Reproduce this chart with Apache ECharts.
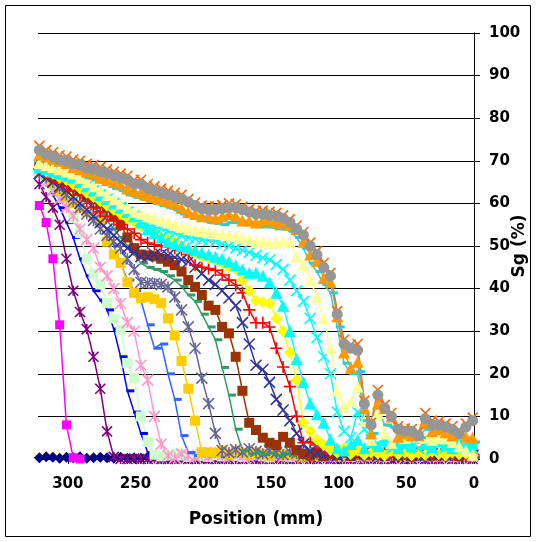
<!DOCTYPE html>
<html>
<head>
<meta charset="utf-8">
<script src="https://cdn.jsdelivr.net/npm/echarts@6/dist/echarts.min.js"></script>
<style>
html,body{margin:0;padding:0;background:#fff}
#chart{width:536px;height:542px}
</style>
</head>
<body>
<div id="chart"></div>
<script>
// Measurement positions along the core (mm)
const positions = [321,316,311,306,301,296,291,286,281,276,271,266,261,256,251,246,241,236,231,226,221,216,211,206,201,196,191,186,181,176,171,166,161,156,151,146,141,136,131,126,121,116,111,106,101,96,91,86,81,76,71,66,61,56,51,46,41,36,31,26,21,16,11,6,1];

// Gas saturation profiles Sg (%), one array per scan
const sg01 = [0.3,0.5,0.4,0.2,0.4,0.3,0.5,0.2,0.3,0.4,0.3,0.2,0.4,0.2,0.3,0.2,0.4,0.5,0.2,0.2,0.3,0.4,0.2,0.3,0.4,0.2,0.3,0.1,0.3,0.4,0.2,0.3,0.1,0.3,0.4,0.2,0.3,0.1,0.4,0.3,0.2,0.3,0.5,0.2,0.3,0.4,0.1,0.3,0.5,0.2,0.3,0.4,0.1,0.3,0.2,0.4,0.3,0.1,0.3,0.2,0.4,0.3,0.5,0.4,0.3];
const sg02 = [59.5,55.5,47,31.5,8,0.3,0];
const sg03 = [64.5,61.5,59,55,47,39.5,34.5,30.5,24,16.5,6.5,0.5,0,0,0.1,0,0,0.1,0,0,0,0.1,0,0,0.1,0,0,0.1,0,0,0,0.1,0,0,0,0.1,0,0,0,0.1,0,0,0.1,0,0,0,0.1,0,0,0.1,0,0,0,0.1,0,0,0.1,0,0,0,0.1,0,0,0.1,0];
const sg04 = [66.5,64.5,62,59,55.5,52,47,43,39.5,37.3,35,30.5,24,16,11,6,1.5,0.5,0.8,0.4,0.6,0.3,0.5,0.8,0.4,0.6,0.3,0.5,0.7,0.4,0.5,0.3,0.6,0.4,0.8,0.5,0.3,0.6,0.4,0.5,0.7,0.4,0.5,0.3,0.6,0.8,0.4,0.5,0.3,0.6,0.4,0.7,0.5,0.3,0.6,0.4,0.5,0.8,0.3,0.5,0.6,0.4,0.5,0.7,0.4];
const sg05 = [67,65.5,64,62.5,60.5,56.5,53,47,43.5,41,36.6,33,30.3,22.5,19,10,4,1,0.6,0.8,1.2,0.8,0.5,1.0,0.7,0.5,0.9,0.6,1.1,0.7,0.5,0.8,1.0,0.6,0.4,0.9,0.7,0.5,0.8,0.6,1.0,0.7,0.5,0.8,0.6,0.9,0.5,0.7,1.0,0.6,0.8,0.5,0.7,0.9,0.6,0.8,0.5,1.0,0.7,0.6,0.8,0.5,0.9,0.7,0.6];
const sg06 = [67,65,63,61,59,57,54,51.5,49.5,45,43,40,36.5,32,30,22,18.5,10,3.5,0.8,0.3,1.2,0.8,0.5,1.0,0.6,1.5,0.8,0.5,1.1,0.7,0.4,0.9,1.3,0.6,0.8,0.5,1.0,0.7,0.4,0.9,0.6,1.2,0.5,0.8,0.6,1.0,0.4,0.7,0.9,0.5,0.8,0.6,1.1,0.4,0.7,0.9,0.5,0.8,0.6,1.0,0.5,0.7,0.9,0.6];
const sg07 = [67,65.5,64,62.5,61,60,59,58,57,55.5,54,50,46,42,39.5,37.3,31.5,26,27,20,14,5.5,1.5,0.8,1.2,0.6,1.0,0.5,0.8,1.1,0.6,0.9,0.5,1.2,0.7,0.4,1.0,0.6,0.8,0.5,0.9,0.6,1.1,0.5,0.8,0.7,0.4,1.0,0.6,0.8,0.5,0.9,0.7,0.4,1.0,0.6,0.8,0.5,0.9,0.7,0.6,1.0,0.5,0.8,0.6];
const sg08 = [68,66.5,65,63,61.5,60,59,58,57,55.5,51,48,46,41.5,39,37.8,38,37.5,36.6,33,29,23,16.5,9,1.6,1.5,1.5,2.0,1.2,1.8,1.4,1.0,1.6,1.2,0.8,1.5,1.1,0.9,1.3,0.7,1.1,0.8,1.4,0.6,1.0,1.2,0.7,0.9,1.3,0.8,1.0,0.6,1.2,0.9,0.7,1.1,0.8,1.3,0.6,1.0,0.8,1.2,0.7,1.0,0.9];
const sg09 = [67,66,65,63.5,62,60.5,59,57.5,56,54,52.5,51,49.5,47,44.5,41.5,41.3,41.2,41,40.4,38,35,31,26,19,13,6,2,1.5,2.2,1.6,2.4,1.8,1.2,2.0,1.5,1.0,1.7,1.3,0.9,1.5,1.1,1.8,0.8,1.2,1.6,0.9,1.4,1.0,1.3,0.8,1.2,1.5,0.9,1.1,1.4,0.7,1.0,1.3,0.9,1.2,0.8,1.1,1.4,0.9];
const sg10 = [68,67,66,65,64,62.5,61.5,60.5,59,57.5,56,54,52,50,48,46,45,44.5,44,43,42,40.5,38.5,37,34,31,28,21.5,15,7,2,1.2,1.6,1.0,1.4,0.8,1.2,0.9,1.5,1.1,0.7,1.3,1.0,0.8,1.2,0.6,1.1,0.9,0.7,1.0,1.2,0.8,0.6,1.1,0.9,0.7,1.0,1.2,0.8,0.6,1.0,0.8,1.1,0.7,0.9];
const sg11 = [69,68,67,66,65,64,63,62,61,60,59,57,55,52,49.5,48,47.8,47.6,47,46.3,45.5,44,42,40.4,38.5,36,35,31,29.5,24,16,8.5,6.8,5,3.8,3.3,5.2,3.8,2.1,1.2,0.8,1.5,0.6,1.2,0.9,1.8,0.7,1.3,1.0,2.0,1.1,0.7,1.5,0.9,1.3,0.6,1.0,1.6,0.8,1.2,0.9,1.4,0.7,1.1,0.8];
const sg12 = [67,66,65,64,63,61.5,60,58.5,57,55.5,54,52.5,51,49.5,48.5,47.5,47.5,48,48,47.8,47.3,46.8,46.3,45,43.5,42,41,39.5,37.8,36,32,27,22,21,18,14,11.5,9,6,3.5,1.8,1.4,1.0,1.6,0.8,1.2,2.0,0.9,1.4,1.1,0.7,1.3,1.0,0.6,1.5,0.9,1.2,0.8,1.1,1.4,0.9,1.2,1.6,1.0,0.8];
const sg13 = [68,67,66,65,64,63,62,60.5,59,58,57,56,55,54,53,51.5,50.7,50.3,50,49.8,49.5,49,48,45.5,45,44.7,44.3,43.2,42,40.8,39,35,32,32,31,26,21.6,17,10,3.8,4,3.3,2.6,1.5,1.0,1.8,0.8,1.3,0.7,1.1,0.9,1.4,0.6,1.0,1.2,0.8,1.5,0.7,1.0,0.9,1.3,0.8,1.1,0.6,1.0];
const sg14 = [68.5,67.5,67,66,65.5,64.5,63.5,62.5,61.5,60.5,59.5,58.5,57.5,56.5,55.5,54.5,53.5,53,52,51.5,51,50,49.3,48.3,47.5,47.2,46.8,46,45,44.5,42,39.5,37.2,36.8,36.5,33,30,25,18.5,8.5,6.5,4.5,3.3,2.1,1.5,2.5,1.2,2.0,1.0,1.6,1.3,0.8,1.8,1.1,1.5,0.9,1.4,1.0,1.7,1.2,0.9,1.5,1.1,1.3,0.8];
const sg15 = [68.5,68,67.5,67,66.5,66,65,64,63,62,61,60,59,58,57,55.5,54,53,52,51,50.5,50,49.5,49,48.5,48,47.5,47,46.3,45.5,44.5,43.7,43.7,43,41.5,39,36,30,23.5,18,13,10.5,8.5,4.5,2.5,2,3.5,4.5,2.5,4,3,4.5,3.5,2.5,4,3,5,3.5,2.8,4.2,3.2,2.5,4,3,3.5];
const sg16 = [69,68.5,68,67.5,67,66,65,64,63,62,61,60,59,58,57,56,55,54.5,54,53.5,53,52.5,52,51.8,51.5,51.3,51,50.5,50,49.5,49,48.5,47.8,47.2,46.7,45.7,44.5,42,39.5,37,33,28.5,24,20,11,6.5,5,11,7,4.5,3.5,3,2.5,3.5,2.8,3.2,2.5,3,2.2,3.4,2.6,3,2.4,2.8,2.5];
const sg17 = [69.5,69,68.5,68,67.5,67,66,65,64,63,62,61,60,59,58,57.5,57,56.5,56,55.5,55,54.5,54,53.8,53.5,53.2,53,52.8,52.6,52.3,52,51.5,51,51,50.7,50.8,51,51,47.5,45.5,42,38,33,26,16,12.2,13.5,17,9,4.5,10.8,6,3.8,5.5,5,5.5,5.2,5,4.5,5,4.8,4,3,2,1];
const sg18 = [70.5,70,69.5,69,68.5,67.5,67,66,65.5,65,64.5,63.5,63,62,61.5,61,60.5,60,59.5,59,58.5,57.5,57,56.5,56,55.5,55.3,55,55.5,55.5,55,55,54.5,54.5,54.5,54,54,53.5,52,49.5,46,44,41,39,31,22.5,20,20.5,9,6,12,8,7.5,5.5,5,5.5,5,7,6.5,6,6,5,5.5,4.5,4];
const sg19 = [71.5,71,70.5,70,69.5,68.5,68,67.5,67,66,65.5,65,64.5,63.5,63,62.5,62,61.5,61,60.5,60,59,58,57.5,57,57,56.5,57,57.5,57,56,56,55.5,56,56,55.5,55.5,55,54,51,48,46.5,42.5,41.5,33.5,25,21.4,22.8,12,6,13,12,10,5.2,6,5.5,5.6,8.5,6.5,7,6.3,5.5,6,5.2,5];
const sg20 = [73.5,72.5,72,71.3,71,70.3,70,69.3,69,68.5,68,67.5,67,66.5,65.5,65.5,64.5,64,63.5,63,62.5,62,61,60.2,59.5,59.3,59.3,59.6,60,59.8,59.2,58.7,58.2,58.3,58,57.8,57.2,56.3,54.8,53.3,50.8,48.8,46,43.7,34.7,28,26.8,27,13.7,8.5,16.2,12.7,10.8,7.7,7.2,7,6.3,10.8,9,8.8,8.3,7.7,6.8,8.3,9.7];
const sg21 = [72.5,71.5,71,70.3,70,69.3,69,68.3,68,67.5,67,66.5,66,65.5,64.5,64.5,63.5,63,62.5,62,61.5,61,60.3,59.5,58.8,58.5,58.5,58.8,59,59,58.5,58,57.5,57.5,57.2,57,56.5,55.6,54,52.6,50,48,45,43,34,27,26,25.5,13,8,15,12,10,7,6.5,6.5,5.5,9.5,8,8,7.5,7,6,7.5,9];

// Axis tick values
const xTickValues = [0, 50, 100, 150, 200, 250, 300];

// Marker shapes drawn as strokes
const X_MARK = 'path://M0,0L10,10M10,0L0,10';
const STAR_MARK = 'path://M0,0L10,10M10,0L0,10M5,0L5,10';
const PLUS_MARK = 'path://M5,0L5,10M0,5L10,5';
const DASH_MARK = 'rect';

const profiles = [
  { v: sg01, c: '#000080', s: 'diamond', z: 11 },
  { v: sg02, c: '#FF00FF', s: 'rect', z: 9 },
  { v: sg03, c: '#800080', s: STAR_MARK, z: 10, k: true },
  { v: sg04, c: '#0000FF', s: DASH_MARK, z: [8, 3], d: true },
  { v: sg05, c: '#CCFFCC', s: 'rect', z: 10 },
  { v: sg06, c: '#FF99CC', s: STAR_MARK, z: 11, k: true },
  { v: sg07, c: '#3366FF', s: DASH_MARK, z: [8, 3], d: true },
  { v: sg08, c: '#FFCC00', s: 'rect', z: 10 },
  { v: sg09, c: '#666699', s: STAR_MARK, z: 11, k: true },
  { v: sg10, c: '#339966', s: DASH_MARK, z: [8, 3], d: true },
  { v: sg11, c: '#993300', s: 'rect', z: 10 },
  { v: sg12, c: '#333399', s: X_MARK, z: 11, k: true },
  { v: sg13, c: '#FF0000', s: PLUS_MARK, z: 12, k: true },
  { v: sg14, c: '#FFFF00', s: 'diamond', z: 12 },
  { v: sg15, c: '#00FFFF', s: 'triangle', z: 12 },
  { v: sg16, c: '#00FFFF', s: X_MARK, z: 11, k: true },
  { v: sg17, c: '#FFFF99', s: 'triangle', z: 12 },
  { v: sg18, c: '#33CCCC', s: DASH_MARK, z: [9, 3], d: true },
  { v: sg19, c: '#FF9900', s: 'triangle', z: 12 },
  { v: sg20, c: '#FF6600', s: X_MARK, z: 10, k: true },
  { v: sg21, c: '#969696', s: 'circle', z: 11 }
];

const series = profiles.map((p, idx) => ({
  name: 'scan' + (idx + 1),
  type: 'line',
  data: p.v.map((v, i) => [positions[i], v]),
  symbol: p.s,
  symbolSize: p.z,
  symbolOffset: p.d ? [3, 0] : [0, 0],
  showSymbol: true,
  clip: false,
  lineStyle: { color: p.c, width: 1.5 },
  itemStyle: p.k
    ? { color: p.c, borderColor: p.c, borderWidth: 1.6 }
    : { color: p.c, borderWidth: 0 },
  emphasis: { disabled: true },
  animation: false
}));

const axisFont = { fontFamily: 'DejaVu Sans', fontWeight: 'bold', fontSize: 15, color: '#000' };

const chart = echarts.init(document.getElementById('chart'), null, { renderer: 'canvas' });
chart.setOption({
  backgroundColor: '#fff',
  animation: false,
  grid: { left: 38, right: 62, top: 33, bottom: 83, containLabel: false, outerBoundsMode: 'none' },
  xAxis: {
    type: 'value',
    inverse: true,
    min: 0,
    max: 322,
    name: 'Position (mm)',
    nameLocation: 'middle',
    nameGap: 52,
    nameMoveOverlap: false,
    nameTextStyle: { fontFamily: 'DejaVu Sans', fontWeight: 'bold', fontSize: 17, color: '#000' },
    axisLine: { show: true, onZero: false, lineStyle: { color: '#000', width: 1 } },
    axisTick: { show: true, length: 5, lineStyle: { color: '#000' }, customValues: xTickValues },
    axisLabel: Object.assign({ margin: 18, customValues: xTickValues }, axisFont),
    splitLine: { show: false }
  },
  yAxis: {
    type: 'value',
    position: 'right',
    min: 0,
    max: 100,
    interval: 10,
    name: 'Sg (%)',
    nameLocation: 'middle',
    nameRotate: 90,
    nameGap: 37,
    nameMoveOverlap: false,
    nameTextStyle: { fontFamily: 'DejaVu Sans', fontWeight: 'bold', fontSize: 17, color: '#000' },
    axisLine: { show: true, lineStyle: { color: '#000', width: 1 } },
    axisTick: { show: true, length: 6, lineStyle: { color: '#000' } },
    axisLabel: Object.assign({ margin: 15 }, axisFont),
    splitLine: { show: true, lineStyle: { color: '#000', width: 1 } }
  },
  graphic: [{
    type: 'rect',
    shape: { x: 5.5, y: 5.5, width: 525, height: 531 },
    style: { fill: 'none', stroke: '#000', lineWidth: 1 },
    silent: true,
    z: 100
  }],
  series: series
});
</script>
</body>
</html>
